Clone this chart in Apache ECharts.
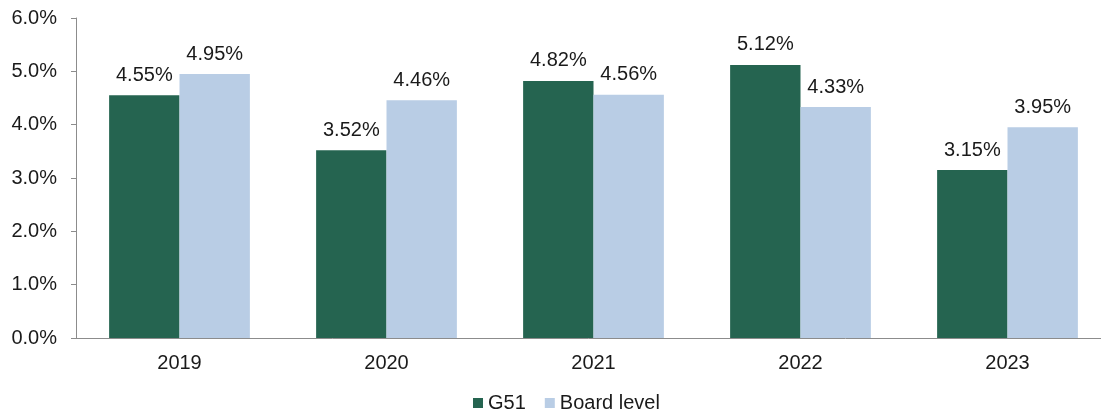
<!DOCTYPE html>
<html><head><meta charset="utf-8">
<script src="https://cdn.jsdelivr.net/npm/echarts@6/dist/echarts.min.js"></script>
<style>html,body{margin:0;padding:0;background:#fff}#c{width:1101px;height:414px}</style>
</head><body><div id="c"></div>
<script>
const categories = ['2019', '2020', '2021', '2022', '2023'];
const g51 = [4.55, 3.52, 4.82, 5.12, 3.15];
const boardLevel = [4.95, 4.46, 4.56, 4.33, 3.95];
const yTicks = [0, 1, 2, 3, 4, 5, 6];
const font = '"Liberation Sans", Arial, sans-serif';
const chart = echarts.init(document.getElementById('c'), null, {renderer: 'canvas'});
const lbl = {show: true, position: 'top', distance: 10, color: '#1a1a1a', fontSize: 20, fontFamily: font,
  formatter: p => p.value.toFixed(2) + '%'};
chart.setOption({
  animation: false,
  grid: {left: 76, top: 18, width: 1035, height: 320, outerBoundsMode: 'none', containLabel: false},
  legend: {left: 473, top: 393, padding: 0, itemWidth: 10, itemHeight: 10, itemGap: 19,
    textStyle: {fontSize: 20, fontFamily: font, color: '#1a1a1a'},
    icon: 'rect', data: ['G51', 'Board level']},
  xAxis: {type: 'category', data: categories,
    axisLine: {lineStyle: {color: '#8c8c8c', width: 1}},
    axisTick: {length: 6, lineStyle: {color: '#8c8c8c'}},
    axisLabel: {margin: 15, fontSize: 20, fontFamily: font, color: '#1a1a1a'}},
  yAxis: {type: 'value', min: yTicks[0], max: yTicks[yTicks.length - 1], interval: 1,
    axisLine: {show: true, lineStyle: {color: '#8c8c8c'}},
    axisTick: {show: true, length: 5, lineStyle: {color: '#8c8c8c'}},
    splitLine: {show: false},
    axisLabel: {margin: 19, fontSize: 20, fontFamily: font, color: '#1a1a1a', formatter: v => v.toFixed(1) + '%'}},
  series: [
    {name: 'G51', type: 'bar', data: g51, barGap: '0%', barCategoryGap: '32%',
      itemStyle: {color: '#256450'}, label: lbl},
    {name: 'Board level', type: 'bar', data: boardLevel,
      itemStyle: {color: '#b9cde5'}, label: lbl}
  ]
});
</script></body></html>
